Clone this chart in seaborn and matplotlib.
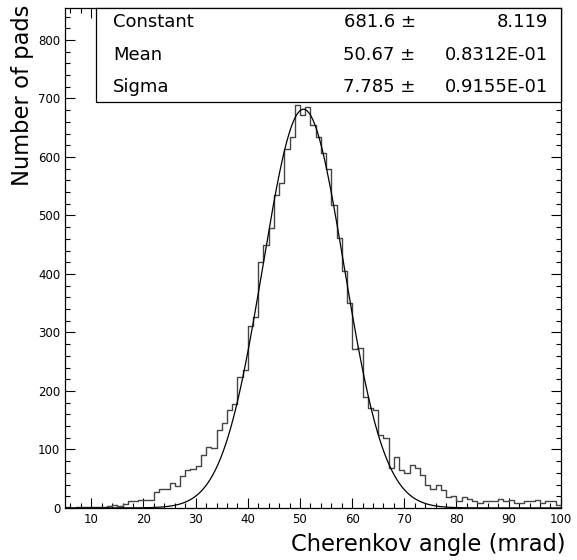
import numpy as np
import pandas as pd
import matplotlib
matplotlib.use("Agg")
import matplotlib.pyplot as plt
from matplotlib.patches import Rectangle
from matplotlib.ticker import MultipleLocator
import seaborn as sns

# ---- data ----
bin_edges = list(range(5, 101))  # 1 mrad bins, 5..100
counts = [1, 0, 2, 1, 2, 1, 2, 1, 3, 5,
          3, 7, 11, 12, 14, 14, 13, 27, 32, 32,
          43, 37, 55, 64, 66, 71, 91, 105, 102, 134,
          146, 168, 177, 224, 235, 311, 327, 420, 450, 478,
          535, 555, 614, 634, 689, 671, 685, 654, 634, 606,
          580, 518, 461, 405, 351, 272, 274, 189, 170, 168,
          124, 119, 68, 87, 65, 60, 73, 69, 57, 39,
          32, 39, 31, 18, 21, 12, 18, 16, 12, 8,
          11, 12, 12, 15, 12, 13, 8, 8, 12, 11,
          13, 8, 11, 12, 5]

fit_names = ["Constant", "Mean", "Sigma"]
fit_values = ["681.6", "50.67", "7.785"]
fit_errors = ["8.119", "0.8312E-01", "0.9155E-01"]
fit_constant = 681.6
fit_mean = 50.67
fit_sigma = 7.785

x_label = "Cherenkov angle (mrad)"
y_label = "Number of pads"

# ---- build ----
sns.set_style("ticks")
plt.rcParams["font.family"] = ["DejaVu Sans"]
plt.rcParams["text.color"] = "black"
plt.rcParams["axes.labelcolor"] = "black"
plt.rcParams["xtick.color"] = "black"
plt.rcParams["ytick.color"] = "black"

edges = np.array(bin_edges, dtype=float)
centers = (edges[:-1] + edges[1:]) / 2
df = pd.DataFrame({"angle": centers, "n": np.array(counts, dtype=float)})

fig = plt.figure(figsize=(5.77, 5.60), dpi=100)
ax = fig.add_axes([0.113, 0.093, 0.859, 0.893])

sns.histplot(data=df, x="angle", weights="n", binwidth=1,
             binrange=(bin_edges[0], bin_edges[-1]), element="step",
             fill=False, color="#444444", linewidth=1.0, ax=ax)

xs = np.linspace(5, 100, 600)
ys = fit_constant * np.exp(-0.5 * ((xs - fit_mean) / fit_sigma) ** 2)
sns.lineplot(x=xs, y=ys, color="black", linewidth=0.9, ax=ax)

ymax = 855
ax.set_xlim(5, 100)
ax.set_ylim(0, ymax)
ax.xaxis.set_major_locator(MultipleLocator(10))
ax.xaxis.set_minor_locator(MultipleLocator(2))
ax.yaxis.set_major_locator(MultipleLocator(100))
ax.yaxis.set_minor_locator(MultipleLocator(20))
ax.tick_params(which="both", direction="in", top=True, right=True,
               labelsize=8.5, width=0.8, colors="black")
ax.tick_params(which="major", length=7)
ax.tick_params(which="minor", length=3.5)
ax.set_xticks(range(10, 101, 10))
for s in ax.spines.values():
    s.set_linewidth(0.9)
    s.set_color("black")

ax.set_xlabel(x_label, fontsize=16.3, loc="right")
ax.xaxis.set_label_coords(1.01, -0.05)
ax.set_ylabel(y_label, fontsize=16.3, loc="top")
ax.yaxis.set_label_coords(-0.062, 1.007)

# stats box
box_left = 0.062
box_bottom = 694 / ymax
ax.add_patch(Rectangle((box_left, box_bottom), 1 - box_left, 1 - box_bottom,
                       transform=ax.transAxes, facecolor="white",
                       edgecolor="black", linewidth=0.9, zorder=5,
                       clip_on=False))
row_y = [0.972, 0.906, 0.841]
for name, val, err, yy in zip(fit_names, fit_values, fit_errors, row_y):
    ax.text(0.096, yy, name, transform=ax.transAxes, fontsize=13,
            va="center", ha="left", zorder=6)
    ax.text(0.707, yy, val + " \u00b1", transform=ax.transAxes, fontsize=13,
            va="center", ha="right", zorder=6)
    ax.text(0.974, yy, err, transform=ax.transAxes, fontsize=13,
            va="center", ha="right", zorder=6)

fig.savefig("out.png", dpi=100)
